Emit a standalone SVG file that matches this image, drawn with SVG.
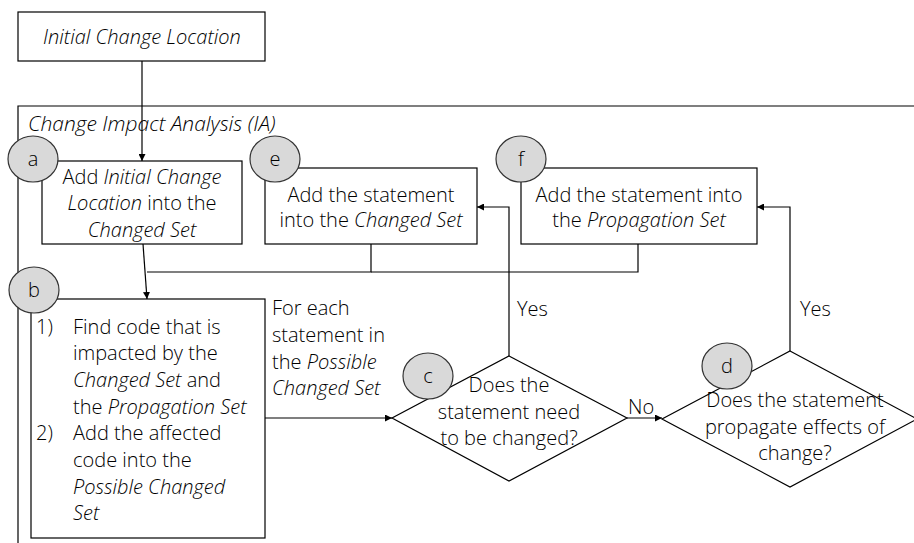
<svg xmlns="http://www.w3.org/2000/svg" width="914" height="543" viewBox="0 0 914 543">
  <style>
    text { font-family: "Open Sans", "Liberation Sans", sans-serif; font-size: 20px; font-weight: 350; fill: #000; }
    .c { text-anchor: middle; }
    .i { font-style: italic; }
    .box { fill: #fff; stroke: #000; stroke-width: 1.2; }
    .badge { fill: #d9d9d9; stroke: #333; stroke-width: 1.2; }
    .wire { fill: none; stroke: #000; stroke-width: 1.2; }
  </style>
  <defs>
    <marker id="arrow" viewBox="0 0 10 10" refX="10" refY="5" markerWidth="7" markerHeight="7" markerUnits="userSpaceOnUse" orient="auto">
      <path d="M0,0 L10,5 L0,10 z" fill="#000"/>
    </marker>
  </defs>

  <!-- outer frame of the analysis stage -->
  <g id="frame">
    <path class="wire" d="M18,543 V106 H914"/>
    <text x="28" y="131" class="i" style="font-size:21px">Change Impact Analysis (IA)</text>
  </g>

  <!-- start node -->
  <g id="initial">
    <rect class="box" x="18" y="12" width="247" height="49"/>
    <text x="142" y="44" class="c i">Initial Change Location</text>
  </g>

  <!-- connectors -->
  <g id="connectors">
    <path class="wire" d="M142,61 V161" marker-end="url(#arrow)"/>
    <path class="wire" d="M143,244 L147,299" marker-end="url(#arrow)"/>
    <path class="wire" d="M371,244 V272 H147"/>
    <path class="wire" d="M638,244 V272 H371"/>
    <path class="wire" d="M265,418 H392" marker-end="url(#arrow)"/>
    <path class="wire" d="M627,418 H662" marker-end="url(#arrow)"/>
    <path class="wire" d="M509,356 V207 H477" marker-end="url(#arrow)"/>
    <path class="wire" d="M790,351 V207 H757" marker-end="url(#arrow)"/>
    <text x="517" y="316">Yes</text>
    <text x="800" y="316">Yes</text>
    <text x="628" y="414">No</text>
    <text x="272" y="315">For each</text>
    <text x="272" y="342">statement in</text>
    <text x="272" y="369">the <tspan class="i">Possible</tspan></text>
    <text x="272" y="395" class="i">Changed Set</text>
  </g>

  <!-- a: seed the changed set -->
  <g id="node-a">
    <rect class="box" x="42" y="161" width="200" height="83"/>
    <text x="142" y="184" class="c">Add <tspan class="i">Initial Change</tspan></text>
    <text x="142" y="210" class="c"><tspan class="i">Location</tspan> into the</text>
    <text x="142" y="237" class="c i">Changed Set</text>
    <ellipse class="badge" cx="33" cy="159" rx="25" ry="23"/>
    <text x="33" y="166" class="c">a</text>
  </g>

  <!-- e: add to changed set -->
  <g id="node-e">
    <rect class="box" x="265" y="168" width="212" height="76"/>
    <text x="371" y="202" class="c">Add the statement</text>
    <text x="371" y="227" class="c">into the <tspan class="i">Changed Set</tspan></text>
    <ellipse class="badge" cx="275" cy="159" rx="25" ry="23"/>
    <text x="275" y="166" class="c">e</text>
  </g>

  <!-- f: add to propagation set -->
  <g id="node-f">
    <rect class="box" x="521" y="168" width="236" height="76"/>
    <text x="639" y="202" class="c">Add the statement into</text>
    <text x="639" y="227" class="c">the <tspan class="i">Propagation Set</tspan></text>
    <ellipse class="badge" cx="521" cy="159" rx="25" ry="23"/>
    <text x="521" y="166" class="c">f</text>
  </g>

  <!-- b: find impacted code -->
  <g id="node-b">
    <rect class="box" x="31" y="299" width="234" height="239"/>
    <text x="36" y="334">1)</text>
    <text x="73" y="334">Find code that is</text>
    <text x="73" y="360">impacted by the</text>
    <text x="73" y="387"><tspan class="i">Changed Set</tspan> and</text>
    <text x="73" y="414">the <tspan class="i">Propagation Set</tspan></text>
    <text x="36" y="440">2)</text>
    <text x="73" y="440">Add the affected</text>
    <text x="73" y="467">code into the</text>
    <text x="73" y="494" class="i">Possible Changed</text>
    <text x="73" y="520" class="i">Set</text>
    <ellipse class="badge" cx="34" cy="290" rx="25" ry="23"/>
    <text x="34" y="297" class="c">b</text>
  </g>

  <!-- c: needs change? -->
  <g id="node-c">
    <polygon class="box" points="509,356 627,418 509,481 392,418"/>
    <text x="509" y="392" class="c">Does the</text>
    <text x="509" y="419" class="c">statement need</text>
    <text x="509" y="445" class="c">to be changed?</text>
    <ellipse class="badge" cx="428" cy="376" rx="25" ry="23"/>
    <text x="428" y="383" class="c">c</text>
  </g>

  <!-- d: propagates change? -->
  <g id="node-d">
    <polygon class="box" points="790,351 917,419 790,487 662,419"/>
    <ellipse class="badge" cx="727" cy="366" rx="25" ry="23"/>
    <text x="727" y="373" class="c">d</text>
    <text x="795" y="407" class="c">Does the statement</text>
    <text x="795" y="434" class="c">propagate effects of</text>
    <text x="795" y="460" class="c">change?</text>
  </g>
</svg>
